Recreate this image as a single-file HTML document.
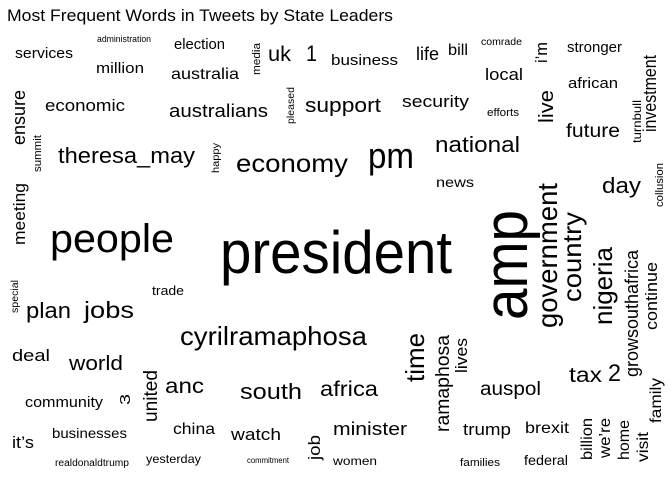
<!DOCTYPE html>
<html><head><meta charset="utf-8"><style>
html,body{margin:0;padding:0;background:#fff;}
svg{display:block;font-family:"Liberation Sans",Arial,sans-serif;}
</style></head><body>
<svg id="cloud" width="672" height="480" viewBox="0 0 672 480" xmlns="http://www.w3.org/2000/svg">
<rect width="672" height="480" fill="#fff"/>
<text x="7" y="21" font-size="17" textLength="386" lengthAdjust="spacingAndGlyphs">Most Frequent Words in Tweets by State Leaders</text>
</svg>
<script>
// word-cloud data: words and their relative frequency (font size)
const words = ["services","administration","election","million","australia","uk","1","business","economic","australians","support","theresa_may","economy","people","life","bill","comrade","stronger","local","african","security","efforts","future","national","pm","news","day","president","trade","plan","jobs","cyrilramaphosa","deal","world","anc","south","africa","community","it\u2019s","businesses","china","watch","realdonaldtrump","yesterday","commitment","women","minister","auspol","tax","2","trump","brexit","families","federal",
"media","ensure","pleased","summit","happy","meeting","i\u2019m","investment","turnbull","live","collusion","amp","government","country","nigeria","growsouthafrica","continue","family","billion","we\u2019re","home","visit","time","ramaphosa","lives","united","3","special","job"];
const sizes = [15,9,15,15,16,21,22,15,17,18,20,22,25,40,18,16,10,15,17,15,17,11,19,22,36,14,22,60,13,22,23,26,17,20,21,22,21,15,17,14,16,17,10,12,8,12,18,19,21,24,17,16,11,14,
11,18,10,11,10,17,17,18,12,20,11,62,28,26,26,18,17,16,16,16,16,16,26,19,17,19,15,10,17];
// layout (start, end along reading direction, baseline, rotated flag)
const layoutStart = [15,97,174,96,171,268,306,331,45,169,305,58,236,50,416,448,481,567,485,568,402,487,566,435,368,436,602,220,152,26,84,180,12,69,165,240,320,25,12,52,173,231,55,146,247,333,333,480,569,608,463,525,460,524,
75,145,124,172,173,245,63,132,143,123,207,320,328,302,325,377,330,423,460,458,460,462,382,432,373,422,405,313,460];
const layoutEnd = [73,151,225,144,239,291,317,398,125,268,381,195,348,174,439,468,522,622,523,618,469,519,620,520,414,474,641,452,184,71,134,367,50,123,204,302,378,103,34,127,215,281,129,201,289,377,407,541,602,621,511,569,500,568,
43,90,87,135,143,183,42,55,100,90,163,210,183,212,247,250,262,378,418,418,420,432,333,335,338,370,394,280,435];
const baseline = [58,42,49,73,79,61,61,65,111,117,112,163,172,252,60,55,45,52,80,88,107,116,137,152,168,187,193,273,295,318,318,345,361,370,393,399,396,407,448,438,434,440,466,463,463,465,435,395,382,381,435,433,466,465,
260,25,294,41,219,25,547,656,641,553,663,527,557,581,612,638,657,661,592,610,629,648,424,449,467,157,130,18,320];
const rotated = words.map((w,i)=>i>=54);
const svg = document.getElementById('cloud');
const NS = 'http://www.w3.org/2000/svg';
words.forEach((w,i)=>{
  const t = document.createElementNS(NS,'text');
  t.textContent = w;
  t.setAttribute('font-size', sizes[i]);
  const len = Math.abs(layoutEnd[i]-layoutStart[i]);
  t.setAttribute('textLength', len);
  t.setAttribute('lengthAdjust','spacingAndGlyphs');
  if(rotated[i]){
    t.setAttribute('x',0); t.setAttribute('y',0);
    t.setAttribute('transform','translate('+baseline[i]+','+layoutStart[i]+') rotate(-90)');
  } else {
    t.setAttribute('x',layoutStart[i]); t.setAttribute('y',baseline[i]);
  }
  
  
  svg.appendChild(t);
});
</script>
</body></html>
